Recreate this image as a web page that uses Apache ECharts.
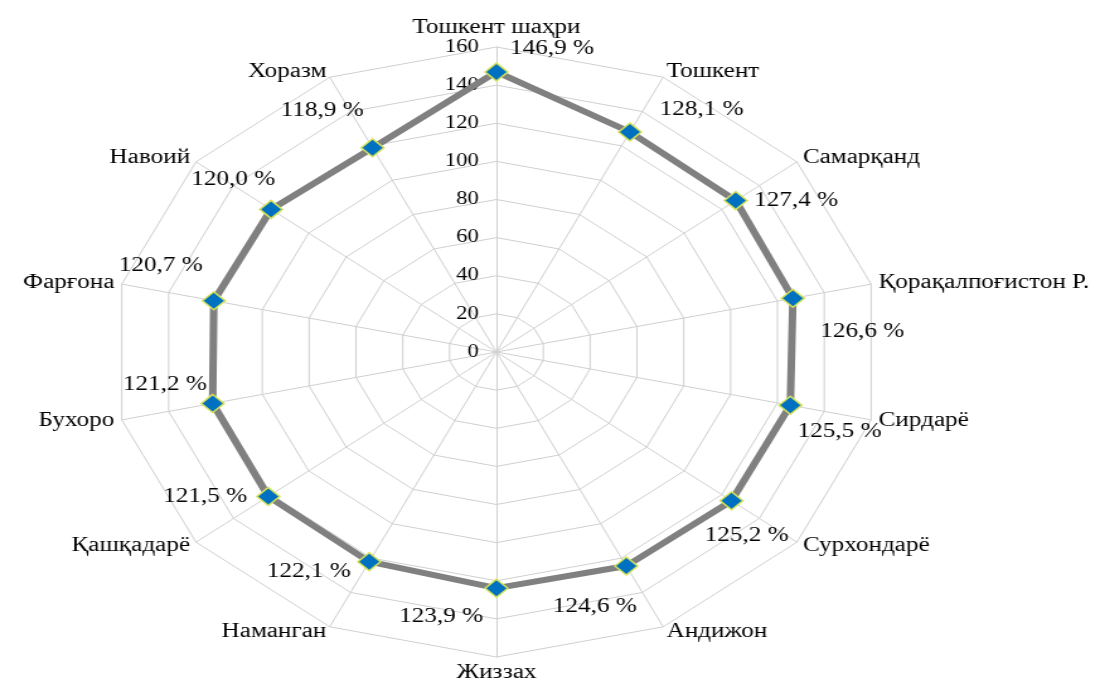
<!DOCTYPE html>
<html>
<head>
<meta charset="utf-8">
<script src="https://cdn.jsdelivr.net/npm/echarts@6.0.0/dist/echarts.min.js"></script>
<style>
  html, body { margin: 0; padding: 0; background: #fff; overflow: hidden; }
  #wrap { width: 1115px; height: 691px; overflow: hidden; position: relative; }
  /* the source picture is stretched sideways, so the chart is drawn narrow and scaled */
  #draw { width: 885px; height: 691px; transform: scaleX(1.26); transform-origin: 0 0; }
</style>
</head>
<body>
<div id="wrap"><div id="draw"></div></div>
<script>
  // clockwise from the top
  var regions = ['Тошкент шаҳри', 'Тошкент', 'Самарқанд', 'Қорақалпоғистон Р.', 'Сирдарё', 'Сурхондарё',
    'Андижон', 'Жиззах', 'Наманган', 'Қашқадарё', 'Бухоро', 'Фарғона', 'Навоий', 'Хоразм'];
  var percents = [146.9, 128.1, 127.4, 126.6, 125.5, 125.2, 124.6, 123.9, 122.1, 121.5, 121.2, 120.7, 120.0, 118.9];
  var axisMax = 160;
  var axisStep = 20;

  // label shift from each marker (like the hand-placed labels of the original)
  var labelShift = [[44, -23], [57, -22], [48, 0], [55, 33], [39, 27], [12, 35], [-25, 41],
    [-44, 29], [-48, 10], [-50, 0], [-38, -19], [-42, -35], [-30, -30], [-40, -37]];

  var serif = "'Liberation Serif', 'DejaVu Serif', 'Times New Roman', serif";

  // echarts lays indicators counter-clockwise, so flip the order after the first one
  var order = [0];
  for (var k = regions.length - 1; k > 0; k--) order.push(k);

  var indicator = order.map(function (i, n) {
    var ind = { name: regions[i], min: 0, max: axisMax };
    if (n === 0) ind.axisLabel = { show: true };
    return ind;
  });
  var values = order.map(function (i) { return percents[i]; });

  function fmt(v) {
    return v.toFixed(1).replace('.', ',') + ' %';
  }

  var labelItems = order.map(function (i, n) {
    return {
      value: values,
      label: {
        show: true,
        position: 'inside',
        offset: labelShift[i],
        formatter: function (p) {
          return p.value === percents[i] ? fmt(percents[i]) : '';
        }
      }
    };
  });

  var chart = echarts.init(document.getElementById('draw'));
  var option = {
    animation: false,
    textStyle: { fontFamily: serif },
    radar: {
      center: [394, 352],
      radius: 305,
      startAngle: 90,
      shape: 'polygon',
      splitNumber: axisMax / axisStep,
      indicator: indicator,
      axisName: {
        color: '#000',
        fontSize: 20,
        fontFamily: serif
      },
      nameGap: 6,
      axisLine: { lineStyle: { color: '#cfcfcf', width: 1 } },
      splitLine: { lineStyle: { color: '#cfcfcf', width: 1 } },
      splitArea: { show: false },
      axisTick: { show: false },
      axisLabel: {
        show: false,
        color: '#000',
        fontSize: 18,
        fontFamily: serif,
        margin: 14
      }
    },
    series: [
      {
        type: 'radar',
        symbol: 'diamond',
        symbolSize: 18,
        lineStyle: { color: '#808080', width: 6 },
        itemStyle: { color: '#0070c0', borderColor: '#d4e157', borderWidth: 1.5 },
        data: [{ value: values }],
        z: 3
      },
      {
        type: 'radar',
        symbol: 'circle',
        symbolSize: 1,
        lineStyle: { width: 0, opacity: 0 },
        itemStyle: { color: 'rgba(0,0,0,0)', borderWidth: 0 },
        label: { color: '#000', fontSize: 20, fontFamily: serif },
        data: labelItems,
        silent: true,
        z: 4
      }
    ]
  };
  chart.setOption(option);
</script>
</body>
</html>
